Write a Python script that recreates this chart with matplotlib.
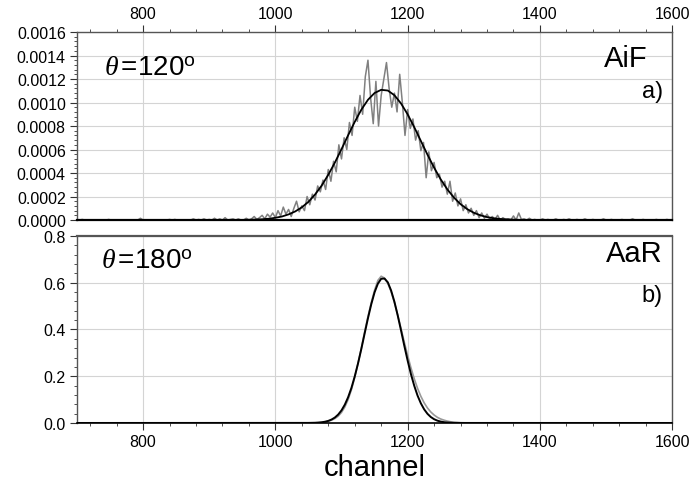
import numpy as np
import matplotlib
matplotlib.use("Agg")
import matplotlib.pyplot as plt
from matplotlib.ticker import MultipleLocator, FormatStrFormatter

plt.rcParams['font.family'] = ['Liberation Sans', 'DejaVu Sans']
plt.rcParams['mathtext.fontset'] = 'custom'
plt.rcParams['mathtext.rm'] = 'Liberation Sans'
plt.rcParams['mathtext.it'] = 'Liberation Serif:italic'

# ---- panel a) AiF, theta = 120 deg : measured spectrum (units of 1e-4), 4-channel bins from 700
left_tail = [0, 0, 0.05, 0, 0, 0, 0, 0, 0, 0, 0, 0, 0.05, 0, 0, 0, 0, 0, 0, 0,
             0, 0, 0, 0, 0.15, 0, 0, 0, 0, 0, 0, 0, 0, 0, 0, 0.05, 0, 0.05, 0, 0,
             0, 0, 0, 0, 0.1, 0, 0.05, 0, 0.1, 0, 0.05, 0, 0.15, 0, 0.1, 0, 0.2, 0, 0.05, 0.1]
peak_part = [0.0, 0.1, 0.0, 0.0, 0.15, 0.0, 0.1, 0.3, 0.05, 0.2,
             0.4, 0.1, 0.5, 0.25, 0.6, 0.2, 0.8, 0.35, 1.1, 0.5,
             0.9, 0.3, 1.0, 1.6, 0.7, 1.2, 0.8, 2.0, 1.3, 2.2,
             1.7, 2.9, 2.4, 3.4, 2.6, 4.3, 3.3, 5.0, 4.1, 6.4,
             5.2, 7.0, 6.0, 8.3, 7.2, 9.6, 8.4, 10.6, 9.0, 12.2,
             13.6, 10.4, 8.2, 11.8, 8.0, 10.6, 12.0, 13.4, 11.2, 9.6,
             10.8, 9.2, 12.4, 10.0, 7.2, 9.4, 7.8, 8.6, 6.8, 7.6,
             5.9, 6.6, 3.6, 5.8, 4.2, 4.9, 3.6, 3.9, 2.8, 3.3,
             2.2, 3.3, 1.6, 2.3, 1.2, 1.8, 0.8, 1.3, 0.6, 1.0,
             0.4, 0.8, 0.2, 0.6, 0.15, 0.5, 0.1, 0.3, 0.05, 0.4,
             0.0, 0.2, 0.05, 0.1, 0.0, 0.35, 0.0, 0.6, 0.05, 0.1,
             0.0, 0.15]
right_tail = [0, 0.05, 0, 0, 0.1, 0, 0.05, 0, 0, 0.1, 0, 0, 0.05, 0, 0.1, 0, 0, 0.05, 0, 0,
              0.1, 0, 0, 0.05, 0, 0, 0, 0.1, 0, 0, 0.05, 0, 0, 0, 0.05, 0, 0, 0, 0.1, 0,
              0, 0, 0.05, 0, 0, 0, 0, 0.05, 0, 0, 0, 0.05, 0, 0]

# fitted curve for panel a) (units of 1e-4)
fit_a_ch = [700, 940, 950, 960, 970, 980, 990, 1000, 1010, 1020, 1030, 1040, 1050, 1060, 1070,
            1080, 1090, 1100, 1110, 1120, 1130, 1140, 1150, 1160, 1170, 1180, 1190, 1200,
            1210, 1220, 1230, 1240, 1250, 1260, 1270, 1280, 1290, 1300, 1310, 1320, 1330,
            1340, 1350, 1370, 1600]
fit_a_val = [0, 0.005, 0.01, 0.02, 0.036, 0.064, 0.11, 0.19, 0.30, 0.48, 0.73, 1.08, 1.55, 2.17,
             2.93, 3.85, 4.89, 6.03, 7.21, 8.35, 9.39, 10.23, 10.81, 11.08, 11.02, 10.62, 9.92,
             8.99, 7.90, 6.73, 5.56, 4.46, 3.46, 2.61, 1.91, 1.35, 0.93, 0.62, 0.40, 0.25,
             0.15, 0.09, 0.05, 0.01, 0]

# ---- panel b) AaR, theta = 180 deg
meas_b_ch = [700, 1055, 1060, 1065, 1070, 1075, 1080, 1085, 1090, 1095, 1100, 1105, 1110, 1115,
             1120, 1125, 1130, 1135, 1140, 1145, 1150, 1155, 1160, 1165, 1170, 1175, 1180,
             1185, 1190, 1195, 1200, 1205, 1210, 1215, 1220, 1225, 1230, 1235, 1240, 1245,
             1250, 1255, 1260, 1265, 1270, 1275, 1280, 1290, 1600]
meas_b_val = [0, 0.0002, 0.0005, 0.001, 0.002, 0.004, 0.007, 0.012, 0.019, 0.029, 0.045, 0.068,
              0.100, 0.142, 0.195, 0.255, 0.320, 0.390, 0.455, 0.515, 0.568, 0.610, 0.628,
              0.620, 0.598, 0.562, 0.515, 0.462, 0.404, 0.345, 0.289, 0.236, 0.189, 0.148,
              0.114, 0.086, 0.064, 0.047, 0.034, 0.024, 0.017, 0.012, 0.008, 0.005, 0.003,
              0.002, 0.001, 0.0003, 0]

fit_b_ch = [700, 1050, 1060, 1065, 1070, 1075, 1080, 1085, 1090, 1095, 1100, 1105, 1110, 1115,
            1120, 1125, 1130, 1135, 1140, 1145, 1150, 1155, 1160, 1165, 1170, 1175, 1180,
            1185, 1190, 1195, 1200, 1205, 1210, 1215, 1220, 1225, 1230, 1235, 1240, 1245,
            1250, 1255, 1260, 1270, 1280, 1600]
fit_b_val = [0, 0.0003, 0.0009, 0.0017, 0.0030, 0.0053, 0.0089, 0.0147, 0.0233, 0.0360, 0.0539,
             0.0782, 0.110, 0.150, 0.199, 0.255, 0.317, 0.383, 0.448, 0.508, 0.559, 0.596,
             0.617, 0.618, 0.602, 0.567, 0.519, 0.460, 0.396, 0.330, 0.267, 0.209, 0.159,
             0.117, 0.0839, 0.0582, 0.0391, 0.0255, 0.0161, 0.0099, 0.0059, 0.0034, 0.0019,
             0.0005, 0.0001, 0]

x_ticks = [800, 1000, 1200, 1400, 1600]

hist_a = np.array(left_tail + peak_part + right_tail) * 1e-4
ch_a = np.arange(700, 700 + 4 * len(hist_a), 4)

fig = plt.figure(figsize=(6.93, 4.89), dpi=100)
ax1 = fig.add_axes([0.111, 0.548, 0.859, 0.3845])
ax2 = fig.add_axes([0.111, 0.133, 0.859, 0.3823])

spine_col = '#555555'
grid_col = '#d4d4d4'

# top panel
ax1.plot(ch_a, hist_a, color='#808080', lw=1.1, zorder=2)
ax1.plot(fit_a_ch, np.array(fit_a_val) * 1e-4, color='black', lw=1.3, zorder=3)
ax1.set_xlim(700, 1600)
ax1.set_ylim(0, 0.0016)
ax1.yaxis.set_major_locator(MultipleLocator(0.0002))
ax1.yaxis.set_minor_locator(MultipleLocator(0.00004))
ax1.yaxis.set_major_formatter(FormatStrFormatter('%.4f'))
ax1.xaxis.tick_top()
ax1.set_xticks(x_ticks)
ax1.xaxis.set_minor_locator(MultipleLocator(40))

# bottom panel
ax2.plot(meas_b_ch, meas_b_val, color='#999999', lw=1.2, zorder=2)
ax2.plot(fit_b_ch, fit_b_val, color='black', lw=1.4, zorder=3)
ax2.set_xlim(700, 1600)
ax2.set_ylim(0, 0.8)
ax2.yaxis.set_major_locator(MultipleLocator(0.2))
ax2.yaxis.set_minor_locator(MultipleLocator(0.04))
ax2.yaxis.set_major_formatter(FormatStrFormatter('%.1f'))
ax2.set_xticks(x_ticks)
ax2.xaxis.set_minor_locator(MultipleLocator(40))
ax2.set_xlabel('channel', fontsize=21, labelpad=3)

for ax in (ax1, ax2):
    ax.grid(True, which='major', color=grid_col, lw=0.8, zorder=0)
    ax.set_axisbelow(True)
    for s in ax.spines.values():
        s.set_color(spine_col)
        s.set_linewidth(1.0)
    ax.tick_params(which='major', length=5, width=0.8, color='#333333', labelsize=11.5, pad=3)
    ax.tick_params(which='minor', length=2.5, width=0.6, color='#333333')

ax1.spines['bottom'].set_color('black')
ax1.spines['bottom'].set_linewidth(1.6)
ax2.spines['bottom'].set_color('black')
ax2.spines['bottom'].set_linewidth(1.2)
ax2.spines['top'].set_linewidth(1.6)

# annotations
ax1.text(0.045, 0.81, r'$\theta\,$' + '=120' + r'$^{\rm o}$', transform=ax1.transAxes,
         fontsize=20, va='center', ha='left')
ax1.text(0.958, 0.862, 'AiF', transform=ax1.transAxes, fontsize=21, va='center', ha='right')
ax1.text(0.985, 0.686, 'a)', transform=ax1.transAxes, fontsize=17, va='center', ha='right')

ax2.text(0.040, 0.866, r'$\theta\,$' + '=180' + r'$^{\rm o}$', transform=ax2.transAxes,
         fontsize=20, va='center', ha='left')
ax2.text(0.983, 0.909, 'AaR', transform=ax2.transAxes, fontsize=21, va='center', ha='right')
ax2.text(0.983, 0.687, 'b)', transform=ax2.transAxes, fontsize=17, va='center', ha='right')

fig.savefig('out.png', dpi=100)
